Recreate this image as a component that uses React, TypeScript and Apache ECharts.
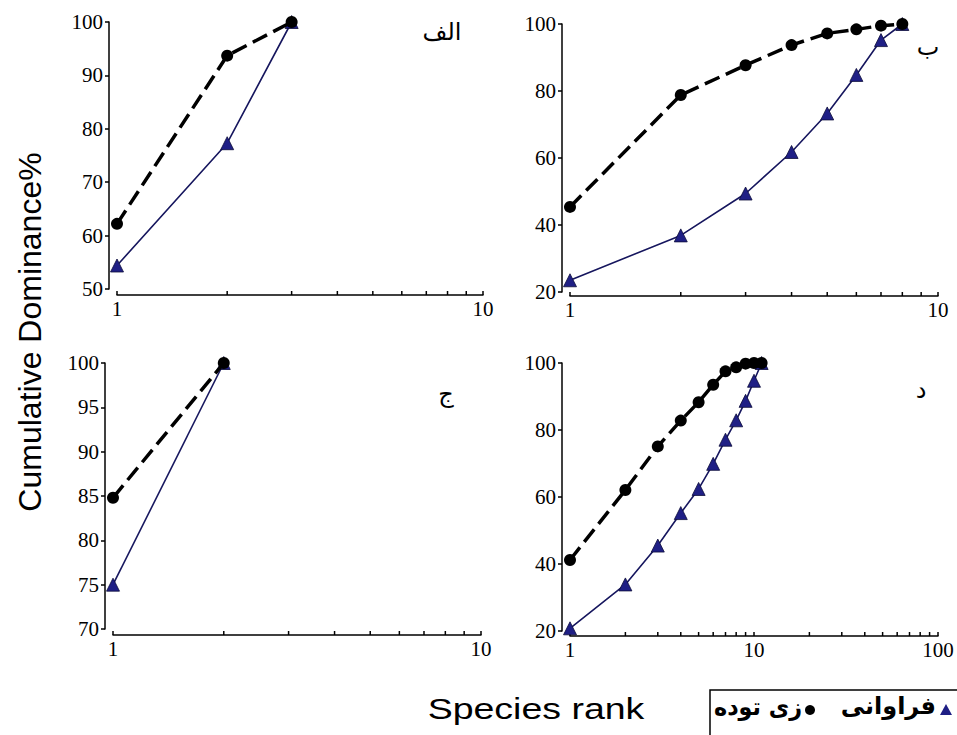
import React, { useEffect, useRef } from "react";
import * as echarts from "echarts";

// Panel الف
const rankA = [1, 2, 3];
const biomassA = [62.2, 93.7, 100];
const abundanceA = [54.4, 77.3, 100];
// Panel ب
const rankB = [1, 2, 3, 4, 5, 6, 7, 8];
const biomassB = [45.4, 78.8, 87.7, 93.7, 97.2, 98.4, 99.5, 100];
const abundanceB = [23.5, 36.9, 49.4, 61.8, 73.3, 84.8, 95.2, 100];
// Panel ج
const rankC = [1, 2];
const biomassC = [84.8, 100];
const abundanceC = [75, 100];
// Panel د
const rankD = [1, 2, 3, 4, 5, 6, 7, 8, 9, 10, 11];
const biomassD = [41.2, 62.1, 75.1, 82.8, 88.3, 93.5, 97.5, 98.7, 99.8, 100, 100];
const abundanceD = [20.8, 33.9, 45.5, 55.2, 62.4, 69.9, 77.1, 82.9, 88.7, 94.7, 100];

// axis settings
const yMin = [50, 20, 70, 20];
const yMax = [100, 100, 100, 100];
const yStep = [10, 20, 5, 20];
const xMax = [10, 10, 10, 100];
const minorTicks10 = [2, 3, 4, 5, 6, 7, 8, 9];
const minorTicks100 = [2, 3, 4, 5, 6, 7, 8, 9, 20, 30, 40, 50, 60, 70, 80, 90];

const panelLabels = ["الف", "ب", "ج", "د"];
const yTitle = "Cumulative Dominance%";
const xTitle = "Species rank";
const legendBiomass = "زی توده";
const legendAbundance = "فراوانی";

const ranks = [rankA, rankB, rankC, rankD];
const biomass = [biomassA, biomassB, biomassC, biomassD];
const abundance = [abundanceA, abundanceB, abundanceC, abundanceD];

const grids = [
  { left: 117, top: 22, width: 366, height: 267 },
  { left: 570, top: 24, width: 368, height: 268 },
  { left: 113, top: 363, width: 368, height: 266 },
  { left: 570, top: 363, width: 368, height: 268 },
];
const xOffsets = [6, 4, 6, 5];
const labelPos = [
  [442, 32],
  [928, 47],
  [446, 394],
  [921, 390],
];

const serif = "'Liberation Serif', 'Times New Roman', serif";
const arabicFont = "'DejaVu Sans', sans-serif";
const navyLine = "#16165e";
const navyFill = "#1f1f85";

export default function App() {
  const ref = useRef<HTMLDivElement>(null);
  useEffect(() => {
    if (!ref.current) return;
    const chart = echarts.init(ref.current, undefined, { renderer: "svg" });

    const xAxis: any[] = [];
    const yAxis: any[] = [];
    const series: any[] = [];
    for (let i = 0; i < 4; i++) {
      xAxis.push({
        type: "log",
        logBase: 10,
        gridIndex: i,
        min: 1,
        max: xMax[i],
        offset: xOffsets[i],
        splitLine: { show: false },
        axisLine: { show: true, lineStyle: { color: "#000", width: 1.5 } },
        axisTick: { show: true, inside: true, length: 4, lineStyle: { color: "#000", width: 1.5 } },
        minorTick: { show: false },
        axisLabel: { color: "#000", fontFamily: serif, fontSize: 21, margin: 3 },
      });
      yAxis.push({
        type: "value",
        gridIndex: i,
        min: yMin[i],
        max: yMax[i],
        interval: yStep[i],
        offset: 8,
        splitLine: { show: false },
        axisLine: { show: true, lineStyle: { color: "#000", width: 1.5 } },
        axisTick: { show: true, inside: false, length: 4, lineStyle: { color: "#000", width: 1.5 } },
        axisLabel: { color: "#000", fontFamily: serif, fontSize: 21, margin: 6 },
      });
      const minors = xMax[i] === 100 ? minorTicks100 : minorTicks10;
      const off = xOffsets[i];
      series.push({
        type: "custom",
        xAxisIndex: i,
        yAxisIndex: i,
        silent: true,
        clip: false,
        data: minors.map((v) => [v, yMin[i]]),
        renderItem: (params: any, api: any) => {
          const p = api.coord([api.value(0), api.value(1)]);
          return {
            type: "line",
            shape: { x1: p[0], y1: p[1] + off, x2: p[0], y2: p[1] + off - 4 },
            style: { stroke: "#000", lineWidth: 1.5 },
          };
        },
      });
      series.push({
        type: "line",
        name: "abundance",
        xAxisIndex: i,
        yAxisIndex: i,
        data: ranks[i].map((r, k) => [r, abundance[i][k]]),
        symbol: "triangle",
        symbolSize: 13,
        lineStyle: { color: navyLine, width: 1.6 },
        itemStyle: { color: navyFill, borderColor: "#0c0c3a", borderWidth: 0.8 },
        z: 2,
      });
      series.push({
        type: "line",
        name: "biomass",
        xAxisIndex: i,
        yAxisIndex: i,
        data: ranks[i].map((r, k) => [r, biomass[i][k]]),
        symbol: "circle",
        symbolSize: 12,
        lineStyle: { color: "#000", width: 3.5, type: [16, 7] },
        itemStyle: { color: "#000" },
        z: 3,
      });
    }

    const graphics: any[] = panelLabels.map((t, i) => ({
      type: "text",
      x: labelPos[i][0],
      y: labelPos[i][1],
      style: {
        text: t,
        font: `24px ${arabicFont}`,
        fill: "#000",
        textAlign: "center",
        textVerticalAlign: "middle",
      },
    }));
    graphics.push({
      type: "text",
      x: 30,
      y: 332,
      rotation: Math.PI / 2,
      style: {
        text: yTitle,
        font: "32px 'Liberation Sans', Arial, sans-serif",
        fill: "#000",
        textAlign: "center",
        textVerticalAlign: "middle",
      },
    });
    graphics.push({
      type: "text",
      x: 536,
      y: 708,
      scaleX: 1.25,
      style: {
        text: xTitle,
        font: "30px 'Liberation Sans', Arial, sans-serif",
        fill: "#000",
        textAlign: "center",
        textVerticalAlign: "middle",
      },
    });
    graphics.push({
      type: "rect",
      shape: { x: 710, y: 690, width: 260, height: 60 },
      style: { fill: "none", stroke: "#000", lineWidth: 1.5 },
    });
    graphics.push({
      type: "text",
      x: 802,
      y: 706,
      scaleX: 0.93,
      style: {
        text: legendBiomass,
        font: `bold 24px ${arabicFont}`,
        fill: "#000",
        textAlign: "right",
        textVerticalAlign: "middle",
      },
    });
    graphics.push({
      type: "circle",
      shape: { cx: 810, cy: 710, r: 5 },
      style: { fill: "#000" },
    });
    graphics.push({
      type: "text",
      x: 936,
      y: 706,
      style: {
        text: legendAbundance,
        font: `bold 24px ${arabicFont}`,
        fill: "#000",
        textAlign: "right",
        textVerticalAlign: "middle",
      },
    });
    graphics.push({
      type: "polygon",
      shape: { points: [[946, 704], [940, 715], [952, 715]] },
      style: { fill: navyFill },
    });

    chart.setOption({
      animation: false,
      backgroundColor: "#fff",
      grid: grids.map((g) => ({ ...g, containLabel: false })),
      xAxis,
      yAxis,
      series,
      graphic: graphics,
    });
    return () => chart.dispose();
  }, []);
  return (
    <div
      ref={ref}
      style={{ position: "fixed", left: 0, top: 0, width: 957, height: 735 }}
    />
  );
}
